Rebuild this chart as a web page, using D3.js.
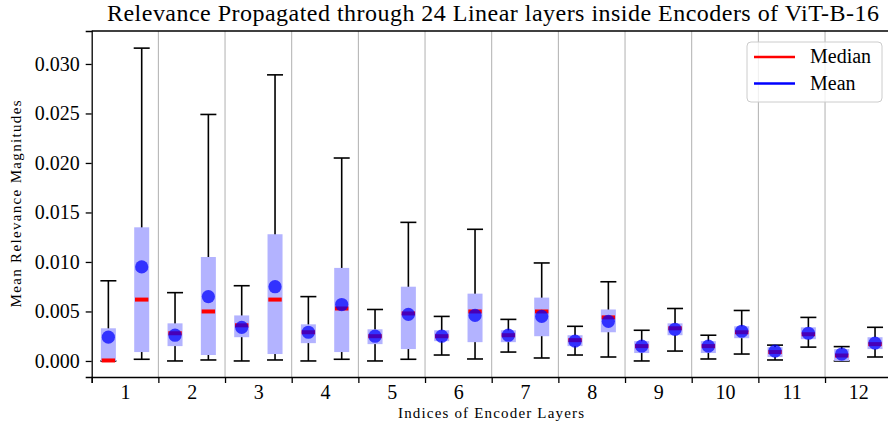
<!DOCTYPE html>
<html>
<head>
<meta charset="utf-8">
<script src="https://cdn.jsdelivr.net/npm/d3@7"></script>
<style>
  body { margin: 0; background: #fff; }
  svg { display: block; }
  svg text { font-family: "Liberation Serif", "Times New Roman", "DejaVu Serif", serif; }
</style>
</head>
<body>
<svg id="chart" width="888" height="428"></svg>
<script>
// one entry per linear layer (2 per encoder)
const layerLabels = ['1', '2', '3', '4', '5', '6', '7', '8', '9', '10', '11', '12'];
const whiskerLow = [0, 0.00017, 0, 0.0001, 0, 0.0001, 0, 0.00017, 0, 0.00017, 0.0006, 0.0002,
                    0.0009, 0.0003, 0.0006, 0.0004, 0, 0.0010, 0.0002, 0.0007, 0.0001, 0.0014, 0, 0.0004];
const q1 = [0, 0.0009, 0.0015, 0.0006, 0.0024, 0.0007, 0.0018, 0.0009, 0.0017, 0.0012, 0.0020, 0.0019,
            0.0019, 0.0025, 0.0015, 0.0029, 0.0008, 0.0026, 0.0008, 0.0023, 0.0004, 0.0022, 0, 0.0012];
const median = [0.00005, 0.0062, 0.0028, 0.0050, 0.0036, 0.0062, 0.0029, 0.0053, 0.0025, 0.0048, 0.0025, 0.0050,
                0.0026, 0.0050, 0.0021, 0.0044, 0.0015, 0.0033, 0.0015, 0.0029, 0.0009, 0.0027, 0.00055, 0.0017];
const q3 = [0.0033, 0.0135, 0.0038, 0.0105, 0.0046, 0.0128, 0.0037, 0.0094, 0.0032, 0.0075, 0.0031, 0.0068,
            0.0031, 0.0064, 0.0026, 0.0052, 0.0020, 0.0038, 0.0020, 0.0035, 0.0014, 0.0034, 0.0012, 0.0024];
const whiskerHigh = [0.0081, 0.0316, 0.0069, 0.0249, 0.0076, 0.0289, 0.0065, 0.0205, 0.0052, 0.0140, 0.0045, 0.0133,
                     0.0042, 0.0099, 0.0035, 0.0080, 0.0031, 0.0053, 0.0026, 0.0051, 0.0016, 0.0044, 0.00145, 0.0034];
const mean = [0.0024, 0.0095, 0.0026, 0.0065, 0.0034, 0.0075, 0.0029, 0.0057, 0.0025, 0.0047, 0.0025, 0.0046,
              0.0026, 0.0045, 0.0020, 0.0040, 0.0015, 0.0032, 0.0015, 0.0030, 0.0010, 0.0028, 0.0007, 0.0018];
const yTicks = [0, 0.005, 0.01, 0.015, 0.02, 0.025, 0.03];

const svg = d3.select('#chart');
const mLeft = 91.7, mRight = 891.7, mTop = 31, mBottom = 377;

const x = d3.scaleLinear().domain([0, 24]).range([mLeft, mRight]);
const y = d3.scaleLinear().domain([-0.00162, 0.03333]).range([mBottom, mTop]);

const boxes = median.map((m, i) => ({
    i: i, lo: whiskerLow[i], q1: q1[i], med: m, q3: q3[i], hi: whiskerHigh[i], mean: mean[i]
}));

// group separators
svg.append('g')
    .selectAll('line')
    .data(d3.range(2, 24, 2))
    .join('line')
    .attr('x1', d => x(d)).attr('x2', d => x(d))
    .attr('y1', mTop).attr('y2', mBottom)
    .attr('stroke', '#b0b0b0')
    .attr('stroke-width', 1);

const bw = 15, capW = 16;
const g = svg.append('g');

// whiskers
g.selectAll('.whisker')
    .data(boxes)
    .join('line')
    .attr('class', 'whisker')
    .attr('x1', d => x(d.i + 0.5)).attr('x2', d => x(d.i + 0.5))
    .attr('y1', d => y(d.lo)).attr('y2', d => y(d.hi))
    .attr('stroke', '#000').attr('stroke-width', 1.6);

['lo', 'hi'].forEach(k => {
    g.selectAll('.cap-' + k)
        .data(boxes)
        .join('line')
        .attr('class', 'cap-' + k)
        .attr('x1', d => x(d.i + 0.5) - capW / 2).attr('x2', d => x(d.i + 0.5) + capW / 2)
        .attr('y1', d => y(d[k])).attr('y2', d => y(d[k]))
        .attr('stroke', '#000').attr('stroke-width', 1.6);
});

// interquartile boxes
g.selectAll('.box')
    .data(boxes)
    .join('rect')
    .attr('class', 'box')
    .attr('x', d => x(d.i + 0.5) - bw / 2)
    .attr('width', bw)
    .attr('y', d => y(d.q3))
    .attr('height', d => Math.max(1, y(d.q1) - y(d.q3)))
    .attr('fill', '#b3b3ff');

// medians
g.selectAll('.median')
    .data(boxes)
    .join('rect')
    .attr('class', 'median')
    .attr('x', d => x(d.i + 0.5) - 6.7)
    .attr('width', 13.4)
    .attr('y', d => y(d.med) - 2)
    .attr('height', 4)
    .attr('fill', '#ff0000');

// means
g.selectAll('.mean')
    .data(boxes)
    .join('circle')
    .attr('class', 'mean')
    .attr('cx', d => x(d.i + 0.5))
    .attr('cy', d => y(d.mean))
    .attr('r', 6.6)
    .attr('fill', 'rgba(0,0,255,0.72)');

// axes
const yAxis = svg.append('g')
    .attr('transform', `translate(${mLeft},0)`)
    .call(d3.axisLeft(y).tickValues(yTicks).tickFormat(d3.format('.3f')).tickSize(6).tickPadding(6));
yAxis.selectAll('text').style('font-size', '20px');

const xAxis = svg.append('g')
    .attr('transform', `translate(0,${mBottom})`)
    .call(d3.axisBottom(x).tickValues(d3.range(0, 25, 2)).tickFormat('').tickSize(6));

const xLabels = svg.append('g')
    .attr('transform', `translate(0,${mBottom})`)
    .call(d3.axisBottom(x).tickValues(layerLabels.map((l, i) => 2 * i + 1))
        .tickFormat((d, i) => layerLabels[i]).tickSize(0).tickPadding(8));
xLabels.select('.domain').remove();
xLabels.selectAll('text').style('font-size', '20px');

[yAxis, xAxis].forEach(a => {
    a.select('.domain').attr('stroke-width', 1.3);
    a.selectAll('.tick line').attr('stroke-width', 1.3);
});

// top spine
svg.append('line')
    .attr('x1', mLeft).attr('x2', mRight)
    .attr('y1', mTop).attr('y2', mTop)
    .attr('stroke', '#000').attr('stroke-width', 1.3);

// labels
svg.append('text')
    .attr('x', 493).attr('y', 21)
    .attr('text-anchor', 'middle')
    .attr('textLength', 772).attr('lengthAdjust', 'spacing')
    .style('font-size', '24px')
    .text('Relevance Propagated through 24 Linear layers inside Encoders of ViT-B-16');

svg.append('text')
    .attr('x', 491).attr('y', 418)
    .attr('text-anchor', 'middle')
    .attr('textLength', 186).attr('lengthAdjust', 'spacing')
    .style('font-size', '15px')
    .text('Indices of Encoder Layers');

svg.append('text')
    .attr('transform', `translate(21,${(mTop + mBottom) / 2}) rotate(-90)`)
    .attr('text-anchor', 'middle')
    .attr('textLength', 207).attr('lengthAdjust', 'spacing')
    .style('font-size', '15px')
    .text('Mean Relevance Magnitudes');

// legend
const legend = svg.append('g').attr('transform', 'translate(747,42)');
legend.append('rect')
    .attr('width', 135).attr('height', 60).attr('rx', 4)
    .attr('fill', 'rgba(255,255,255,0.8)')
    .attr('stroke', '#cccccc');
const legendItems = [{ name: 'Median', color: '#ff0000' }, { name: 'Mean', color: '#0000ff' }];
const li = legend.selectAll('.item')
    .data(legendItems)
    .join('g')
    .attr('class', 'item')
    .attr('transform', (d, i) => `translate(0,${15 + i * 26.6})`);
li.append('line')
    .attr('x1', 7).attr('x2', 48)
    .attr('stroke', d => d.color).attr('stroke-width', 2.5);
li.append('text')
    .attr('x', 63).attr('y', 6)
    .style('font-size', '20px')
    .text(d => d.name);
</script>
</body>
</html>
